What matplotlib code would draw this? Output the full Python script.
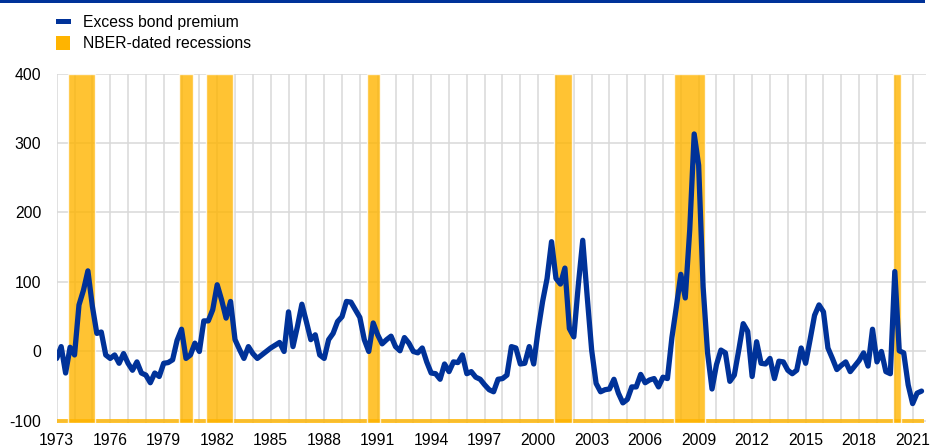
import matplotlib
matplotlib.use('Agg')
import matplotlib.pyplot as plt
from matplotlib.patches import Rectangle
import numpy as np

# ── Colors ─────────────────────────────────────────────────────────────────
EBP_COLOR = '#003299'   # ECB dark blue
REC_COLOR = '#FFB400'   # recession yellow
GRID_COLOR = '#d9d9d9'

plt.rcParams['font.family'] = ['Liberation Sans', 'DejaVu Sans']

# ── Data: quarterly excess bond premium (bp), 1973Q1 .. 2021Q3 ──────────────
start_year = 1973
ebp = [
    -10, 7, -31, 6, -5, 67, 88, 116, 65, 26,
    28, -5, -10, -5, -17, -3, -17, -27, -15, -31,
    -34, -45, -31, -36, -17, -16, -12, 16, 32, -10,
    -5, 12, 0, 44, 44, 60, 96, 74, 48, 72,
    17, 3, -10, 7, -3, -10, -5, 0, 5, 9,
    13, 0, 57, 7, 36, 68, 43, 17, 24, -5,
    -10, 17, 26, 43, 50, 72, 71, 60, 49, 17,
    0, 41, 24, 11, 17, 22, 7, 1, 20, 12,
    0, -2, 5, -15, -31, -32, -40, -18, -29, -15,
    -16, -5, -32, -29, -37, -40, -48, -55, -58, -40,
    -39, -34, 7, 5, -18, -17, 7, -18, 31, 72,
    105, 158, 105, 97, 120, 33, 21, 95, 160, 79,
    2, -46, -58, -55, -54, -40, -60, -74, -69, -51,
    -51, -33, -45, -41, -39, -51, -37, -39, 20, 64,
    111, 77, 175, 313, 268, 93, -2, -54, -19, 2,
    -2, -43, -34, 2, 40, 29, -36, 14, -17, -18,
    -10, -39, -14, -15, -27, -32, -27, 5, -17, 17,
    52, 67, 57, 5, -10, -26, -20, -15, -29, -21,
    -13, -2, -21, 32, -15, 0, -29, -32, 115, 1,
    -2, -48, -75, -60, -57,
]

# NBER-dated recessions (first and last quarter)
rec_start = ['1973Q4', '1980Q1', '1981Q3', '1990Q3', '2001Q1', '2007Q4', '2020Q1']
rec_end   = ['1975Q1', '1980Q3', '1982Q4', '1991Q1', '2001Q4', '2009Q2', '2020Q2']

tick_years = ['1973', '1976', '1979', '1982', '1985', '1988', '1991', '1994',
              '1997', '2000', '2003', '2006', '2009', '2012', '2015', '2018', '2021']

y_ticks = [-100, 0, 100, 200, 300, 400]


def q_index(q):
    return (int(q[:4]) - start_year) * 4 + int(q[-1]) - 1


x = np.arange(len(ebp))
y_lo, y_hi = -102.5, 400

fig = plt.figure(figsize=(9.3, 4.47), dpi=100)
ax = fig.add_axes([56.7 / 930, 24.3 / 447, (926 - 56.7) / 930, (422.7 - 73.5) / 447])

# thin recession-colour band along the bottom, one bar per quarter
ax.bar(x, 5, bottom=y_lo, width=1.0, color=REC_COLOR, alpha=0.8, linewidth=0, zorder=1)

# recession bars
for s, e in zip(rec_start, rec_end):
    i0, i1 = q_index(s), q_index(e)
    ax.bar(i0 - 0.5, y_hi - y_lo, bottom=y_lo, width=i1 - i0 + 1, align='edge',
           color=REC_COLOR, alpha=0.8, edgecolor='white', linewidth=1.0, zorder=2)

ax.plot(x, ebp, color=EBP_COLOR, linewidth=3.8, solid_joinstyle='round',
        solid_capstyle='round', zorder=3)

ax.set_xlim(0, 195)
ax.set_ylim(y_lo, y_hi)

ax.set_xticks(np.arange(0, len(ebp), 4))
labels = [tick_years[k // 12] if k % 12 == 0 else '' for k in range(0, len(ebp), 4)]
ax.set_xticklabels(labels)
ax.set_yticks(y_ticks)
ax.set_yticklabels([str(v) for v in y_ticks])

ax.grid(True, color=GRID_COLOR, linewidth=1.1, zorder=0)
ax.set_axisbelow(True)
ax.tick_params(axis='both', length=0, labelsize=11.3, colors='black')
ax.tick_params(axis='x', pad=7.5)
ax.tick_params(axis='y', pad=11)
for sp in ax.spines.values():
    sp.set_visible(False)

# ── Legend (top left) ──────────────────────────────────────────────────────
W, H = 930, 447
fig.add_artist(Rectangle((56 / W, (H - 24) / H), 15 / W, 5 / H,
                         transform=fig.transFigure, color=EBP_COLOR, lw=0))
fig.add_artist(Rectangle((56 / W, (H - 50) / H), 14 / W, 14 / H,
                         transform=fig.transFigure, color=REC_COLOR, lw=0))
fig.text(83 / W, (H - 22) / H, 'Excess bond premium', fontsize=11.3,
         va='center', ha='left')
fig.text(83 / W, (H - 43.5) / H, 'NBER-dated recessions', fontsize=11.3,
         va='center', ha='left')

# blue rule across the top
fig.add_artist(Rectangle((0, (H - 2.7) / H), 925 / W, 2.7 / H,
                         transform=fig.transFigure, color=EBP_COLOR, lw=0))

fig.savefig('out.png', dpi=100)
